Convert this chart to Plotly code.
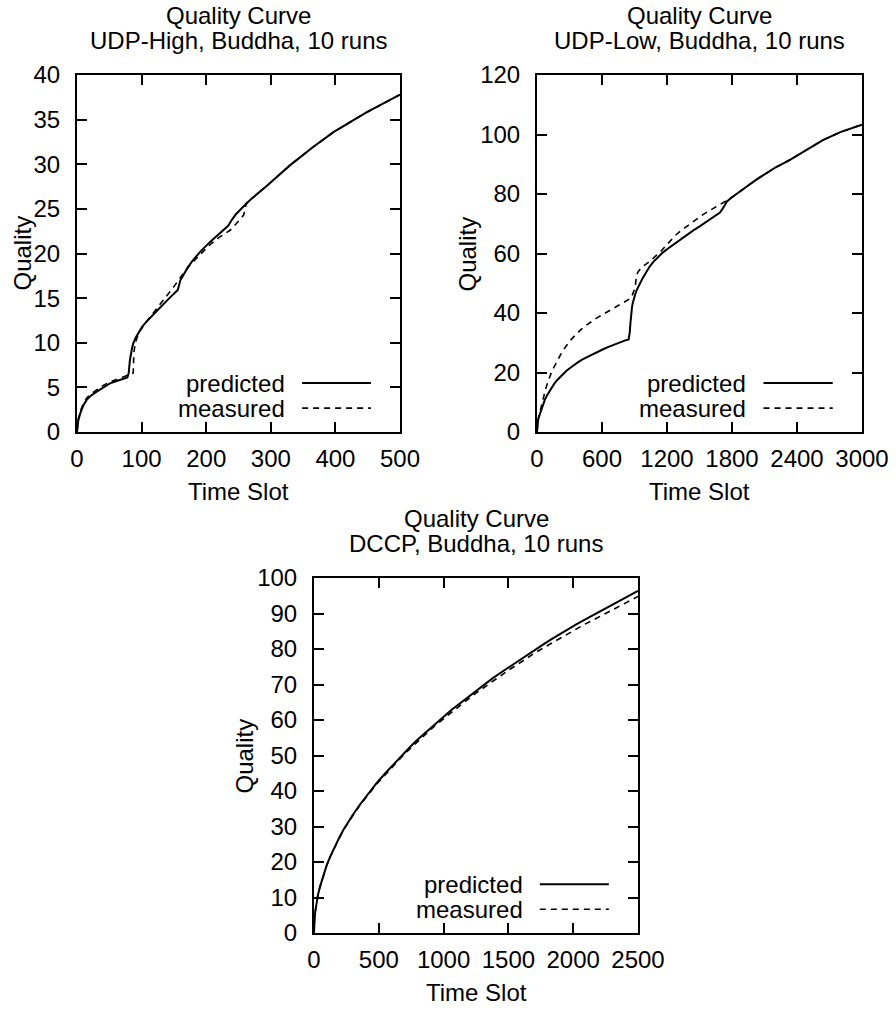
import plotly.graph_objects as go

# ---------------- data ----------------
# UDP-High
high_pred_t = [0, 1, 2, 5, 10, 15, 22, 30, 40, 51, 65, 78, 80, 82, 85, 87, 91, 95, 101, 108, 118, 128, 143, 156,
               160, 165, 172, 180, 192, 206, 220, 234, 240, 246, 258, 268, 294, 330, 365, 397, 448, 500]
high_pred_q = [0, 0.9, 1.3, 2.1, 3.0, 3.6, 4.1, 4.5, 5.0, 5.45, 5.8, 6.1, 6.6, 8.1, 9.3, 9.9, 10.6, 11.1, 11.8,
               12.4, 13.2, 13.9, 15.0, 15.9, 17.0, 17.7, 18.5, 19.3, 20.3, 21.3, 22.2, 23.1, 23.8, 24.4, 25.3,
               26.0, 27.6, 29.9, 31.9, 33.6, 35.8, 37.8]
high_meas_t = [0, 1, 2, 5, 10, 15, 22, 30, 40, 51, 65, 77, 87, 88, 90, 94, 98, 108, 118, 128, 139, 149, 159, 170,
               180, 192, 206, 220, 237, 246, 254, 258, 262, 268, 294, 330, 365, 397, 448, 500]
high_meas_q = [0, 1.0, 1.4, 2.3, 3.2, 3.8, 4.3, 4.7, 5.2, 5.6, 6.0, 6.4, 6.6, 8.8, 9.9, 10.8, 11.4, 12.4, 13.3,
               14.2, 15.2, 16.2, 17.2, 18.3, 19.1, 20.0, 21.0, 21.8, 22.6, 23.3, 24.0, 24.3, 25.6, 26.0, 27.6,
               29.9, 31.9, 33.6, 35.8, 37.8]

# UDP-Low
low_pred_t = [0, 2, 5, 10, 15, 22, 31, 42, 55, 72, 92, 110, 130, 155, 185, 210, 240, 270, 308, 340, 380, 420,
              462, 500, 540, 580, 615, 660, 700, 740, 780, 815, 846, 852, 856, 862, 866, 870, 877, 883, 889, 898,
              908, 920, 940, 960, 975, 1000, 1012, 1040, 1074, 1110, 1160, 1210, 1258, 1320, 1380, 1440, 1505,
              1550, 1600, 1650, 1689, 1720, 1751, 1800, 1850, 1940, 2028, 2110, 2200, 2331, 2489, 2639, 2800, 3000]
low_pred_q = [0, 1.9, 3.0, 4.0, 4.8, 5.6, 6.6, 7.9, 9.3, 10.8, 12.3, 13.5, 14.7, 16.0, 17.4, 18.4, 19.5, 20.5,
              21.6, 22.5, 23.5, 24.4, 25.2, 25.9, 26.6, 27.3, 27.9, 28.6, 29.2, 29.8, 30.3, 30.8, 31.1, 32.0,
              33.5, 36.4, 38.5, 40.0, 42.0, 43.2, 44.2, 45.4, 46.5, 47.7, 49.3, 50.7, 51.7, 53.2, 54.0, 55.6,
              57.2, 58.6, 60.3, 61.7, 63.0, 64.7, 66.3, 67.7, 69.2, 70.3, 71.6, 72.8, 73.8, 75.4, 77.4, 78.9,
              80.3, 82.6, 84.9, 86.9, 88.9, 91.4, 94.8, 98.1, 100.8, 103.3]
low_meas_t = [0, 2, 5, 10, 15, 22, 31, 40, 50, 62, 77, 92, 110, 130, 154, 176, 200, 222, 246, 272, 300, 334, 369,
              405, 440, 480, 523, 565, 610, 660, 708, 750, 790, 830, 862, 875, 885, 898, 908, 914, 920, 935, 955,
              980, 1010, 1043, 1090, 1150, 1210, 1274, 1330, 1390, 1450, 1505, 1550, 1600, 1650, 1689, 1720, 1751,
              1800, 1850, 1940, 2028, 2110, 2200, 2331, 2489, 2639, 2800, 3000]
low_meas_q = [0, 1.6, 2.6, 3.9, 4.9, 6.0, 7.4, 8.8, 10.3, 12.0, 14.1, 15.9, 17.8, 19.7, 21.6, 23.3, 24.9, 26.3,
              27.7, 29.1, 30.4, 31.8, 33.2, 34.4, 35.5, 36.6, 37.6, 38.6, 39.6, 40.6, 41.6, 42.5, 43.3, 44.1,
              44.9, 45.6, 46.4, 47.8, 49.3, 51.5, 52.8, 54.0, 54.9, 55.8, 56.5, 57.4, 59.0, 61.0, 63.4, 66.0,
              67.7, 69.4, 71.0, 72.4, 73.5, 74.5, 75.5, 76.3, 77.0, 77.8, 78.9, 80.3, 82.6, 84.9, 86.9, 88.9,
              91.4, 94.8, 98.1, 100.8, 103.3]

# DCCP
dccp_t = [0, 1, 2, 5, 10, 15, 22, 30, 46, 70, 98, 125, 150, 190, 226, 265, 300, 355, 420, 484, 550, 612, 680,
          741, 800, 870, 930, 998, 1060, 1130, 1190, 1255, 1320, 1380, 1440, 1512, 1580, 1640, 1700, 1770, 1830,
          1900, 1960, 2027, 2090, 2150, 2220, 2284, 2340, 2400, 2450, 2500]
dccp_pred_q = [0, 1.9, 2.7, 4.3, 6.1, 7.5, 9.0, 10.6, 13.0, 16.1, 19.1, 21.5, 23.6, 26.5, 29.0, 31.4, 33.3,
               36.2, 39.4, 42.3, 45.0, 47.5, 50.1, 52.4, 54.5, 56.8, 58.8, 60.8, 62.8, 64.8, 66.5, 68.3, 70.1,
               71.8, 73.3, 75.1, 76.8, 78.3, 79.8, 81.3, 82.7, 84.3, 85.6, 87.0, 88.3, 89.5, 90.9, 92.2, 93.3,
               94.5, 95.5, 96.4]
dccp_meas_q = [0, 1.9, 2.7, 4.3, 6.1, 7.5, 9.0, 10.6, 13.0, 16.0, 19.0, 21.4, 23.5, 26.4, 28.9, 31.2, 33.1,
               36.0, 39.1, 42.0, 44.6, 47.1, 49.7, 51.9, 54.0, 56.3, 58.3, 60.3, 62.3, 64.2, 65.9, 67.7, 69.4,
               71.1, 72.6, 74.3, 75.9, 77.4, 78.8, 80.3, 81.6, 83.1, 84.4, 85.8, 87.0, 88.1, 89.4, 90.7, 91.7,
               92.9, 93.9, 94.8]

titles = ["UDP-High, Buddha, 10 runs", "UDP-Low, Buddha, 10 runs", "DCCP, Buddha, 10 runs"]
x_ticks = [[0, 100, 200, 300, 400, 500], [0, 600, 1200, 1800, 2400, 3000], [0, 500, 1000, 1500, 2000, 2500]]
y_ticks = [list(range(0, 41, 5)), list(range(0, 121, 20)), list(range(0, 101, 10))]
legend_labels = ["predicted", "measured"]

# ---------------- layout helpers ----------------
W, H = 896, 1010
FONT = "Liberation Sans, Arial, Helvetica, sans-serif"
FS = 24
DASH = "6px,5px"

def px(x):
    return x / W

def py(y):
    return 1 - y / H

# plot boxes in pixels: left, right, top, bottom ; y-label offset from left edge
boxes = [(77, 400, 75, 432), (537, 862, 75, 432), (314, 638, 578, 933)]
ylab_off = [55, 70, 70]

fig = go.Figure()

series = [
    (high_pred_t, high_pred_q, high_meas_t, high_meas_q),
    (low_pred_t, low_pred_q, low_meas_t, low_meas_q),
    (dccp_t, dccp_pred_q, dccp_t, dccp_meas_q),
]

annotations = []
shapes = []
for i, (pt, pq, mt, mq) in enumerate(series):
    n = "" if i == 0 else str(i + 1)
    xa, ya = "x" + n, "y" + n
    fig.add_trace(go.Scatter(x=pt, y=pq, mode="lines", name="predicted", xaxis=xa, yaxis=ya,
                             line=dict(color="black", width=2), showlegend=False))
    fig.add_trace(go.Scatter(x=mt, y=mq, mode="lines", name="measured", xaxis=xa, yaxis=ya,
                             line=dict(color="black", width=1.6, dash=DASH), showlegend=False))
    l, r, t, b = boxes[i]
    common = dict(showline=True, linecolor="black", linewidth=2, mirror="ticks", ticks="inside",
                  ticklen=10, tickwidth=1.5, tickcolor="black", showgrid=False, zeroline=False,
                  automargin=False,
                  tickfont=dict(family=FONT, size=FS, color="black"), fixedrange=True)
    fig.layout["xaxis" + n] = dict(domain=[px(l), px(r)], anchor=ya, range=[x_ticks[i][0], x_ticks[i][-1]],
                                   tickvals=x_ticks[i], ticklabelstandoff=4, **common)
    fig.layout["yaxis" + n] = dict(domain=[py(b), py(t)], anchor=xa, range=[y_ticks[i][0], y_ticks[i][-1]],
                                   tickvals=y_ticks[i], ticklabelstandoff=10, **common)
    cx = (l + r) / 2
    cy = (t + b) / 2
    tf = dict(family=FONT, size=FS, color="black")
    annotations += [
        dict(text="Quality Curve", x=px(cx), y=py(t - 60), xref="paper", yref="paper", showarrow=False,
             xanchor="center", yanchor="middle", font=tf),
        dict(text=titles[i], x=px(cx), y=py(t - 35), xref="paper", yref="paper", showarrow=False,
             xanchor="center", yanchor="middle", font=tf),
        dict(text="Quality", x=px(l - ylab_off[i]), y=py(cy), xref="paper", yref="paper", showarrow=False,
             textangle=-90, xanchor="center", yanchor="middle", font=tf),
        dict(text="Time Slot", x=px(cx), y=py(b + 59), xref="paper", yref="paper", showarrow=False,
             xanchor="center", yanchor="middle", font=tf),
    ]
    for k, lab in enumerate(legend_labels):
        yy = 0.137 - 0.07 * k
        annotations.append(dict(text=lab, x=0.65, y=yy, xref=xa + " domain", yref=ya + " domain",
                                showarrow=False, xanchor="right", yanchor="middle", font=tf))
        shapes.append(dict(type="line", xref=xa + " domain", yref=ya + " domain", x0=0.697, x1=0.91,
                           y0=yy, y1=yy,
                           line=dict(color="black", width=2 if k == 0 else 1.6,
                                     dash="solid" if k == 0 else DASH)))

fig.update_layout(width=W, height=H, margin=dict(l=0, r=0, t=0, b=0), paper_bgcolor="white",
                  plot_bgcolor="white", annotations=annotations, shapes=shapes, showlegend=False,
                  font=dict(family=FONT, size=FS, color="black"))

fig.write_html("out.html", config={"displayModeBar": False},
               post_script="document.body.style.margin='0px';document.body.style.overflow='hidden';")
